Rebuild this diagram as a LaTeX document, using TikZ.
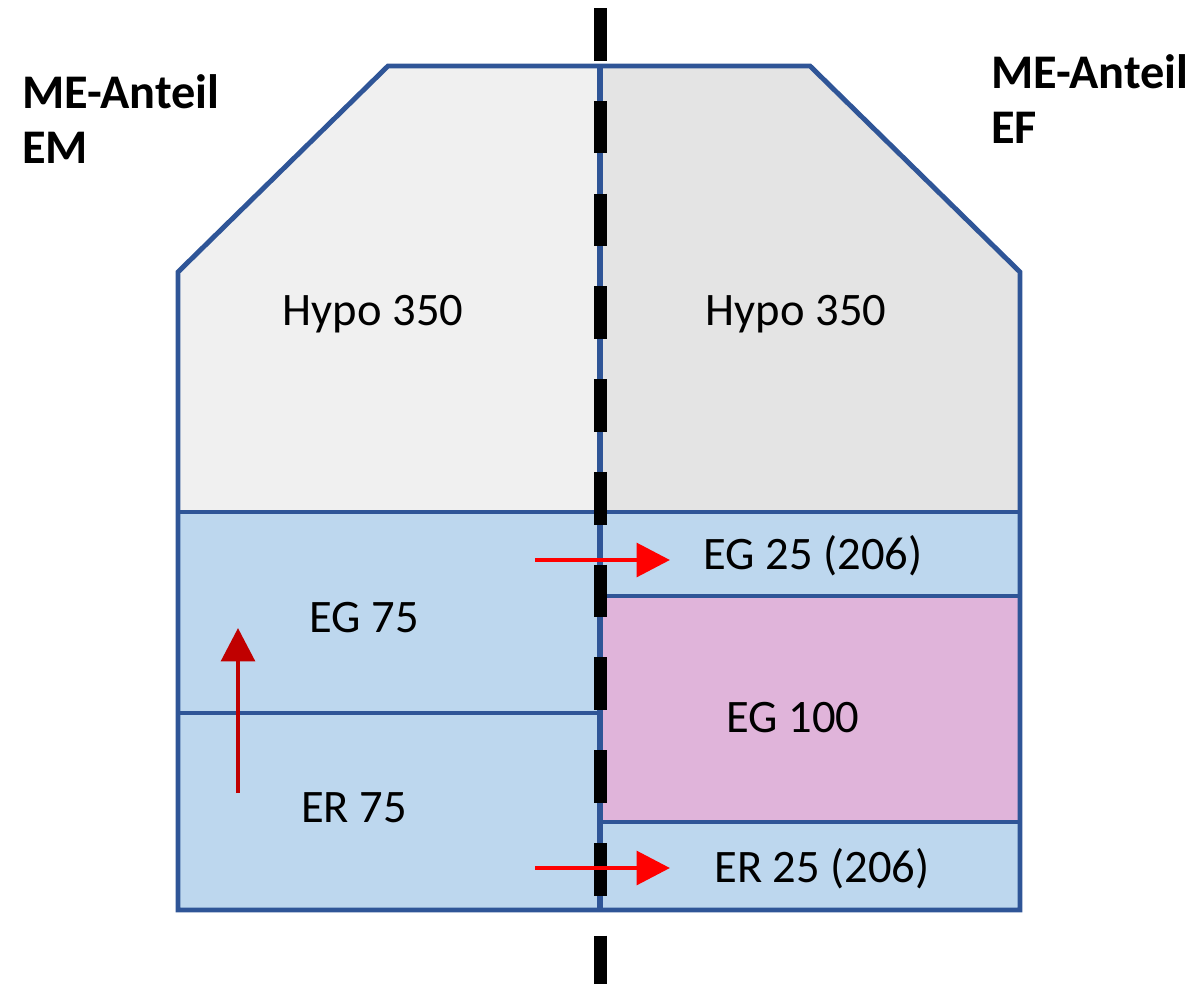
\documentclass[tikz,border=0pt]{standalone}
\usepackage{fontspec}
\setmainfont{Carlito}
\usetikzlibrary{arrows.meta}
\definecolor{edgeblue}{HTML}{2F5597}
\definecolor{hypoleft}{HTML}{F0F0F0}
\definecolor{hyporight}{HTML}{E4E4E4}
\definecolor{egblue}{HTML}{BDD7EE}
\definecolor{egpink}{HTML}{E0B4DA}
\definecolor{shiftred}{HTML}{FF0000}
\definecolor{growred}{HTML}{C00000}

\begin{document}
\begin{tikzpicture}[x=0.02cm,y=-0.02cm,line join=miter,
  part/.style={draw=edgeblue,line width=2.8pt},
  lbl/.style={font=\fontsize{26.5}{31}\selectfont,inner sep=0pt,anchor=base},
  ttl/.style={font=\fontsize{27.5}{31.2}\selectfont\bfseries,align=left,inner sep=0pt,anchor=base west},
  movearrow/.style={-{Triangle[length=19pt,width=19pt]},line width=2.8pt}]
  \useasboundingbox (0,0) rectangle (1204,984);
  % fills
  \fill[hypoleft] (178,512) -- (178,272) -- (388,66) -- (600,66) -- (600,512) -- cycle;
  \fill[hyporight] (600,66) -- (810,66) -- (1020,272) -- (1020,512) -- (600,512) -- cycle;
  \fill[egblue] (178,512) rectangle (1020,910);
  \fill[egpink] (600,596) rectangle (1020,822);
  % outline and dividers
  \draw[part] (178,910) -- (178,272) -- (388,66) -- (810,66) -- (1020,272) -- (1020,910) -- cycle;
  \draw[part,line width=3.6pt] (600,66) -- (600,910);
  \draw[part] (178,512) -- (1020,512);
  \draw[part] (178,713) -- (600,713);
  \draw[part] (600,596) -- (1020,596);
  \draw[part] (600,822) -- (1020,822);
  % split line
  \draw[line width=7.4pt,dash pattern=on 30pt off 22.8pt] (600,8) -- (600,984);
  % labels
  \node[ttl] (emtitle) at (22,163) {ME-Anteil\\EM};
  \node[ttl] (eftitle) at (991,143) {ME-Anteil\\EF};
  \node[lbl] (hypoem) at (373,325) {Hypo 350};
  \node[lbl] (hypoef) at (796,325) {Hypo 350};
  \node[lbl] (egem) at (364,632) {EG 75};
  \node[lbl] (erem) at (354,822) {ER 75};
  \node[lbl] (egef) at (813,569) {EG 25 (206)};
  \node[lbl] (egmid) at (793,732) {EG 100};
  \node[lbl] (eref) at (822,882) {ER 25 (206)};
  % arrows
  \coordinate (egfrom) at (535,560);
  \coordinate (egto) at (670,560);
  \coordinate (erfrom) at (535,868);
  \coordinate (erto) at (670,868);
  \coordinate (upfrom) at (238,793);
  \coordinate (upto) at (238,628);
  \draw[movearrow,shiftred] (egfrom) -- (egto);
  \draw[movearrow,shiftred] (erfrom) -- (erto);
  \draw[movearrow,growred] (upfrom) -- (upto);
\end{tikzpicture}
\end{document}
